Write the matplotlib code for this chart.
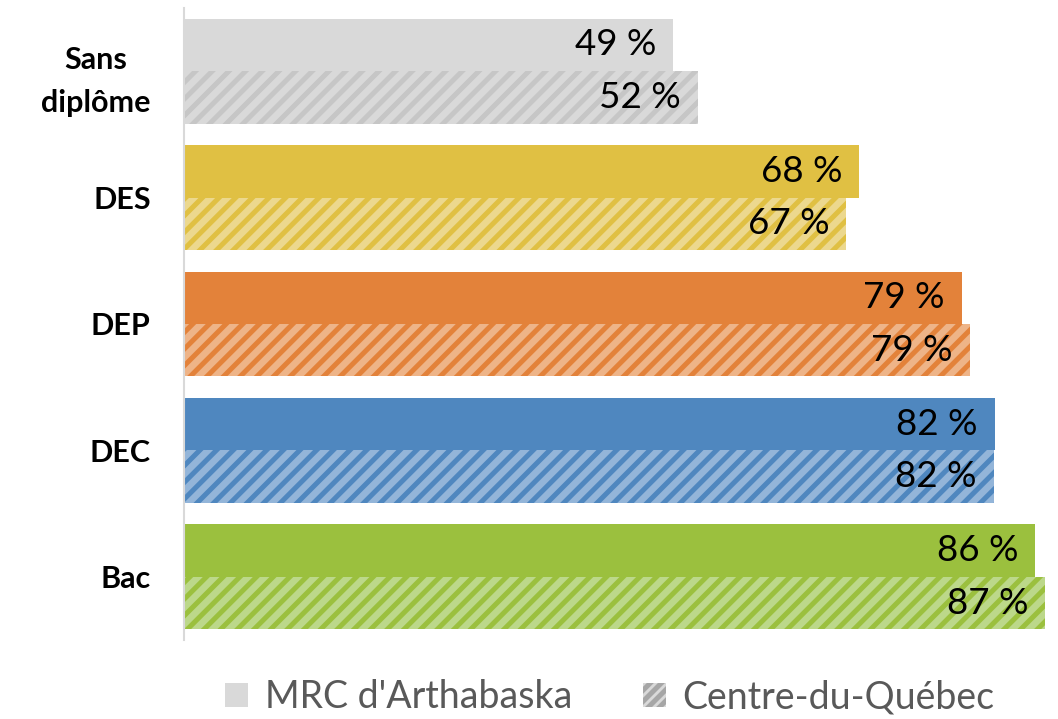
import matplotlib.pyplot as plt
from matplotlib.patches import Patch

plt.rcParams['font.family'] = ['Lato', 'DejaVu Sans']
plt.rcParams['hatch.linewidth'] = 3.6

categories = ['Sans\ndiplôme', 'DES', 'DEP', 'DEC', 'Bac']
mrc = [49.4, 68.2, 78.6, 81.9, 86.0]
cdq = [51.9, 66.9, 79.4, 81.8, 87.0]
series_names = ["MRC d'Arthabaska", 'Centre-du-Québec']

solid_cols = ['#d9d9d9', '#e0c043', '#e3823a', '#4f87bf', '#9bc03e']
hatch_bg = ['#d9d9d9', '#ecd88e', '#eeb488', '#93b5d9', '#bcd88a']
hatch_fg = ['#c6c6c6', '#e0c043', '#e3823a', '#4f87bf', '#9bc03e']

fig = plt.figure(figsize=(10.58, 7.19), dpi=100)
ax = fig.add_axes([184 / 1058, 1 - 640 / 719, (1052 - 184) / 1058, 632 / 719])

h = 0.415
for i in range(len(categories)):
    ax.barh(i - h / 2, mrc[i], height=h, color=solid_cols[i], linewidth=0)
    ax.barh(i + h / 2, cdq[i], height=h, color=hatch_bg[i],
            edgecolor=hatch_fg[i], hatch='//', linewidth=0)
    for y, v in [(i - h / 2, mrc[i]), (i + h / 2, cdq[i])]:
        ax.annotate(f'{v:.0f} %', (v, y), xytext=(-17, 0), textcoords='offset pixels',
                    ha='right', va='center', fontsize=26.5, color='black')

ax.set_ylim(4.5, -0.5)
ax.set_xlim(0, 87.7)
ax.set_yticks(range(len(categories)))
ax.set_yticklabels(categories, fontsize=22, fontweight='bold', linespacing=1.65,
                   multialignment='center')
ax.tick_params(axis='y', length=0, pad=24)
ax.set_xticks([])
for s in ['top', 'right', 'bottom']:
    ax.spines[s].set_visible(False)
ax.spines['left'].set_color('#d9d9d9')
ax.spines['left'].set_linewidth(1.5)

handles = [Patch(facecolor='#d9d9d9', linewidth=0),
           Patch(facecolor='#d9d9d9', edgecolor='#a6a6a6', hatch='///', linewidth=0)]
fig.legend(handles, series_names, loc='center', bbox_to_anchor=(610 / 1058, 22 / 719),
           ncol=2, frameon=False, fontsize=27, labelcolor='#595959',
           handlelength=0.6, handleheight=0.6, handletextpad=0.45, columnspacing=1.9)

fig.savefig('out.png', dpi=100)
